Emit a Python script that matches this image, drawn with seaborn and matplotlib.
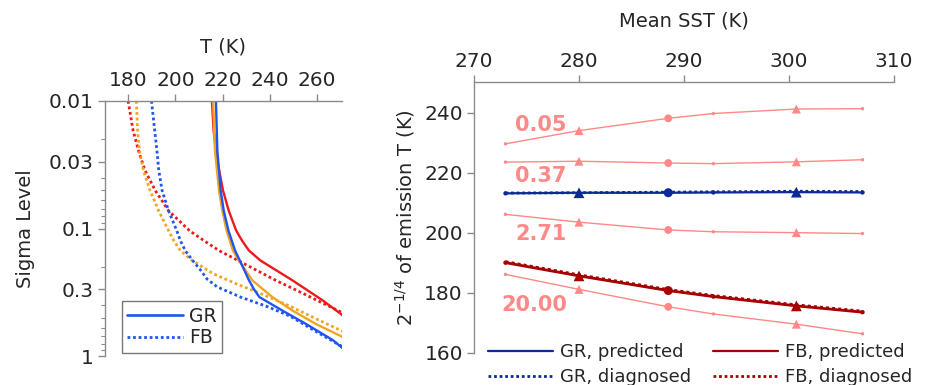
import numpy as np
import pandas as pd
import seaborn as sns
import matplotlib.pyplot as plt
from matplotlib.lines import Line2D

sns.set_style("ticks")
plt.rcParams['font.family'] = ['DejaVu Sans']

# ---------------- Left panel data: temperature profiles (sigma, T) ----------------
S_BLUE_GR = [0.01, 0.0246, 0.0504, 0.0724, 0.104, 0.149, 0.178, 0.255, 0.30, 0.345, 0.44, 0.56, 0.75, 0.87, 1.0]
T_BLUE_GR = [217.2, 217.8, 219.2, 220.5, 222.5, 225.3, 227.3, 231.2, 233.3, 235.6, 245.3, 255.3, 266.7, 270.9, 274.0]
S_ORANGE_GR = [0.01, 0.0246, 0.0504, 0.0724, 0.104, 0.149, 0.178, 0.255, 0.345, 0.44, 0.56, 0.71, 1.0]
T_ORANGE_GR = [216.0, 216.8, 218.5, 219.9, 221.7, 224.4, 226.9, 232.6, 241.1, 249.6, 259.5, 270.9, 285.0]
S_RED_GR = [0.01, 0.017, 0.0246, 0.0352, 0.0504, 0.0724, 0.104, 0.124, 0.149, 0.178, 0.255, 0.366, 0.48, 1.0]
T_RED_GR = [215.5, 216.2, 217.2, 218.6, 220.2, 222.6, 225.8, 228.2, 231.2, 236.0, 249.6, 262.4, 270.9, 295.0]
S_BLUE_FB = [0.01, 0.0246, 0.0352, 0.0504, 0.0724, 0.104, 0.124, 0.149, 0.178, 0.211, 0.25, 0.287, 0.345, 0.41, 0.49, 0.63, 0.84, 1.0]
T_BLUE_FB = [189.9, 192.2, 193.0, 194.4, 197.1, 200.6, 202.1, 204.2, 207.3, 210.6, 213.5, 217.7, 227.6, 239.0, 248.9, 258.8, 270.5, 276.0]
S_ORANGE_FB = [0.01, 0.017, 0.0246, 0.0352, 0.0504, 0.0724, 0.104, 0.124, 0.149, 0.178, 0.226, 0.27, 0.32, 0.41, 0.52, 0.64, 1.0]
T_ORANGE_FB = [183.5, 184.0, 184.8, 186.5, 189.3, 192.9, 197.1, 199.3, 202.1, 207.1, 216.0, 225.5, 235.5, 249.0, 260.5, 270.9, 290.0]
S_RED_FB = [0.01, 0.017, 0.0246, 0.0352, 0.0504, 0.0724, 0.104, 0.124, 0.149, 0.178, 0.255, 0.303, 0.46, 1.0]
T_RED_FB = [180.0, 182.1, 184.4, 187.2, 191.5, 197.1, 206.0, 212.0, 218.5, 226.5, 242.5, 251.0, 271.0, 300.0]

# ---------------- Right panel data ----------------
SST = [273.0, 280.0, 288.5, 292.8, 300.7, 307.0]
MARK = ['dot', 'tri', 'circ', 'dot', 'tri', 'dot']
P005 = [229.7, 234.1, 238.2, 239.8, 241.3, 241.4]
P037 = [223.6, 223.9, 223.3, 223.1, 223.7, 224.4]
P271 = [206.2, 203.6, 201.0, 200.4, 200.1, 199.8]
P2000 = [186.2, 181.2, 175.4, 173.0, 169.6, 166.4]
GR_PRED = [213.2, 213.4, 213.4, 213.5, 213.6, 213.5]
GR_DIAG = [213.3, 213.4, 213.6, 213.7, 213.9, 213.8]
FB_PRED = [190.1, 185.7, 180.8, 178.8, 175.7, 173.6]
FB_DIAG = [190.4, 186.0, 181.1, 179.1, 176.0, 173.9]
OPT_LABELS = ['0.05', '0.37', '2.71', '20.00']
OPT_LABEL_Y = [236.0, 219.0, 199.7, 176.0]

C_BLUE = '#1f55f0'
C_ORANGE = '#f0a524'
C_RED = '#ee1a1a'
C_DBLUE = '#0c2a94'
C_DRED = '#a60000'
C_PINK = '#ff8888'
C_SPINE = '#8a8a8a'
DOT = (0, (1, 1))

fig = plt.figure(figsize=(9.28, 3.85), dpi=100)
axL = fig.add_axes([105/928, 1-356/385, (342-105)/928, (356-101)/385])
axR = fig.add_axes([474/928, 1-353/385, (894-474)/928, (353-82)/385])

# ---- Left ----
curves = [
    (S_RED_FB, T_RED_FB, C_RED, DOT), (S_ORANGE_FB, T_ORANGE_FB, C_ORANGE, DOT),
    (S_BLUE_FB, T_BLUE_FB, C_BLUE, DOT),
    (S_RED_GR, T_RED_GR, C_RED, '-'), (S_ORANGE_GR, T_ORANGE_GR, C_ORANGE, '-'),
    (S_BLUE_GR, T_BLUE_GR, C_BLUE, '-'),
]
for S, T, c, ls in curves:
    df = pd.DataFrame({'T': T, 'sigma': S})
    sns.lineplot(data=df, x='T', y='sigma', sort=False, color=c, ax=axL,
                 linewidth=1.7 if ls == '-' else 2.0, linestyle=ls, legend=False)
axL.set_yscale('log')
axL.set_ylim(1, 0.01)
axL.set_xlim(170.2, 270.6)
axL.set_xticks([180, 200, 220, 240, 260])
axL.set_yticks([0.01, 0.03, 0.1, 0.3, 1])
axL.set_yticklabels(['0.01', '0.03', '0.1', '0.3', '1'])
axL.xaxis.set_ticks_position('top')
axL.xaxis.set_label_position('top')
axL.set_xlabel('T (K)', fontsize=14, labelpad=13)
axL.set_ylabel('Sigma Level', fontsize=14, labelpad=10)
axL.spines['right'].set_visible(False)
axL.spines['bottom'].set_visible(False)
handles = [Line2D([], [], color=C_BLUE, lw=1.9, ls='-'),
           Line2D([], [], color=C_BLUE, lw=2.0, ls=DOT)]
legL = axL.legend(handles, ['GR', 'FB'], loc='lower left', bbox_to_anchor=(0.07, 0.012),
                  borderaxespad=0, fontsize=13.5, frameon=True, fancybox=False,
                  handlelength=3.0, handletextpad=0.3, borderpad=0.3, labelspacing=0.15)
legL.get_frame().set_edgecolor('#555555')
legL.get_frame().set_linewidth(1.0)

# ---- Right ----
def draw(vals, color, lw, ls, msizes):
    df = pd.DataFrame({'sst': SST, 'val': vals, 'mark': MARK})
    sns.lineplot(data=df, x='sst', y='val', color=color, linewidth=lw, linestyle=ls,
                 ax=axR, legend=False)
    if msizes is not None:
        sns.scatterplot(data=df, x='sst', y='val', style='mark', size='mark',
                        markers={'dot': 'o', 'tri': '^', 'circ': 'o'},
                        sizes=msizes, color=color, edgecolor=color, linewidth=0,
                        ax=axR, legend=False, zorder=5)

pink_sizes = {'dot': 6, 'tri': 42, 'circ': 32}
for v in [P005, P037, P271, P2000]:
    draw(v, C_PINK, 1.0, '-', pink_sizes)
dark_sizes = {'dot': 10, 'tri': 60, 'circ': 42}
draw(GR_PRED, C_DBLUE, 1.6, '-', dark_sizes)
draw(GR_DIAG, C_DBLUE, 2.0, DOT, None)
draw(FB_PRED, C_DRED, 2.0, '-', dark_sizes)
draw(FB_DIAG, C_DRED, 2.2, DOT, None)

for lab, y in zip(OPT_LABELS, OPT_LABEL_Y):
    x = 272.6 if lab == '20.00' else 273.9
    axR.text(x, y, lab, color=C_PINK, fontsize=15, fontweight='bold', va='center', ha='left')

axR.set_xlim(270, 310)
axR.set_ylim(160, 250.3)
axR.set_xticks([270, 280, 290, 300, 310])
axR.set_yticks([160, 180, 200, 220, 240])
axR.xaxis.set_ticks_position('top')
axR.xaxis.set_label_position('top')
axR.set_xlabel('Mean SST (K)', fontsize=14, labelpad=18)
axR.set_ylabel(r'2$^{-1/4}$ of emission T (K)', fontsize=14, labelpad=5)
axR.spines['right'].set_visible(False)
axR.spines['bottom'].set_visible(False)

hR = [Line2D([], [], color=C_DBLUE, lw=1.6, ls='-'),
      Line2D([], [], color=C_DBLUE, lw=2.0, ls=DOT),
      Line2D([], [], color=C_DRED, lw=1.6, ls='-'),
      Line2D([], [], color=C_DRED, lw=2.0, ls=DOT)]
lR = ['GR, predicted', 'GR, diagnosed', 'FB, predicted', 'FB, diagnosed']
axR.legend(hR, lR, ncol=2, loc='upper left', bbox_to_anchor=(488/928, 1-343/385),
           bbox_transform=fig.transFigure, frameon=False, fontsize=13,
           handlelength=3.6, handletextpad=0.4, columnspacing=1.2, labelspacing=0.38,
           borderaxespad=0, borderpad=0)

for ax in (axL, axR):
    for s in ('left', 'top'):
        ax.spines[s].set_color(C_SPINE)
        ax.spines[s].set_linewidth(1.0)
    ax.tick_params(axis='both', which='major', direction='out', length=5, width=1,
                   color=C_SPINE, labelsize=14.5, pad=3)
    ax.tick_params(axis='both', which='minor', direction='out', length=3, width=0.8,
                   color=C_SPINE)
    ax.set_facecolor('white')

fig.savefig('out.png', dpi=100)
